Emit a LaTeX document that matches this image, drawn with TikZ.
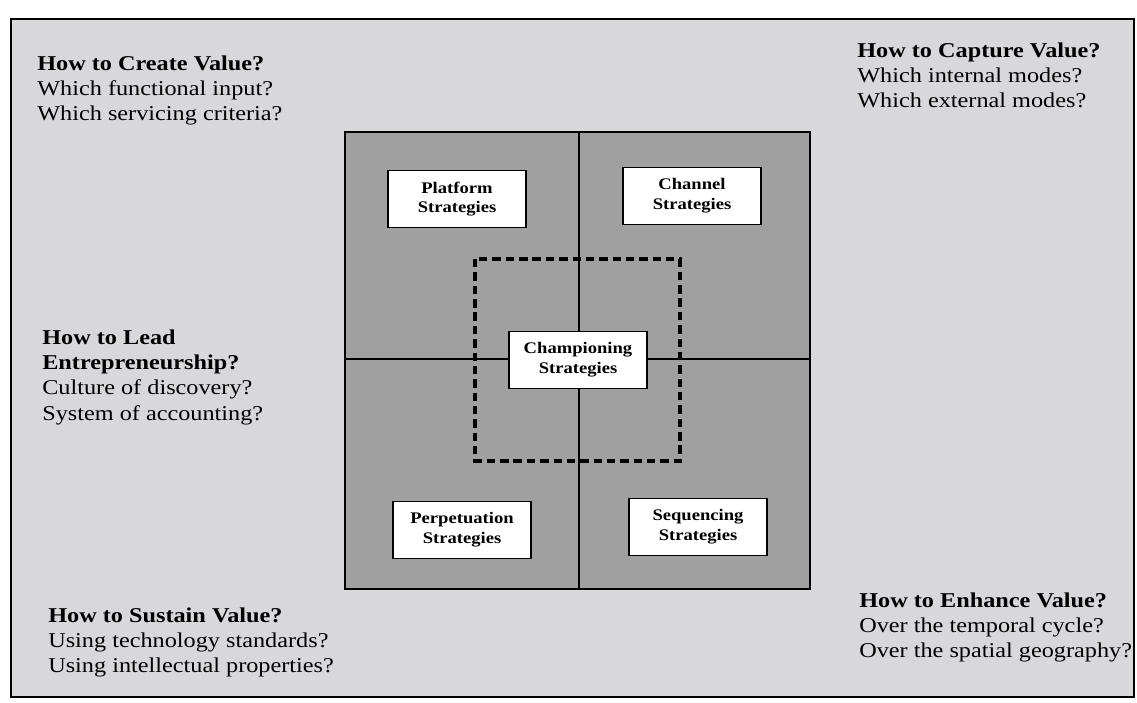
\documentclass[tikz,border=0pt]{standalone}
\usepackage{fontspec}
\setmainfont{Liberation Serif}[FakeStretch=1.15]
\definecolor{paper}{HTML}{D8D8DB}
\definecolor{quad}{HTML}{A0A0A0}

\tikzset{
  stratbox/.style={draw, fill=white, line width=1.1pt, align=center,
    minimum width=3.45cm, minimum height=1.42cm, inner sep=2pt,
    font=\fontsize{11.5}{14}\selectfont\bfseries},
  question/.style={anchor=north west, inner sep=0pt, align=left,
    font=\fontsize{15}{17.8}\selectfont}
}

\begin{document}
\begin{tikzpicture}[x=0.025cm, y=-0.025cm]
 \useasboundingbox (0,0) rectangle (1137,703);
 % frame and grid
 \draw[fill=paper, line width=1.4pt] (11,19) rectangle (1134,697);
 \draw[fill=quad, line width=1.2pt] (345,132) rectangle (810,589);
 \coordinate (vtop) at (579,132);
 \coordinate (vbot) at (579,589);
 \coordinate (hleft) at (345,359);
 \coordinate (hright) at (810,359);
 \draw[line width=1.1pt] (vtop) -- (vbot);
 \draw[line width=1.1pt] (hleft) -- (hright);
 \draw[line width=2.6pt, dash pattern=on 6pt off 3.5pt] (475,259) rectangle (680,461);

 % strategy boxes
 \node[stratbox] (platform) at (457,199) {Platform\\Strategies};
 \node[stratbox] (channel) at (692,196) {Channel\\Strategies};
 \node[stratbox] (champion) at (578,360) {Championing\\Strategies};
 \node[stratbox] (perpet) at (462,530) {Perpetuation\\Strategies};
 \node[stratbox] (sequen) at (698,527) {Sequencing\\Strategies};

 % questions
 \node[question] (create) at (37,56) {\textbf{How to Create Value?}\\Which functional input?\\Which servicing criteria?};
 \node[question] (capture) at (857,43) {\textbf{How to Capture Value?}\\Which internal modes?\\Which external modes?};
 \node[question] (lead) at (42,330) {\textbf{How to Lead}\\\textbf{Entrepreneurship?}\\Culture of discovery?\\System of accounting?};
 \node[question] (sustain) at (48,608) {\textbf{How to Sustain Value?}\\Using technology standards?\\Using intellectual properties?};
 \node[question] (enhance) at (859,593) {\textbf{How to Enhance Value?}\\Over the temporal cycle?\\Over the spatial geography?};
\end{tikzpicture}
\end{document}
